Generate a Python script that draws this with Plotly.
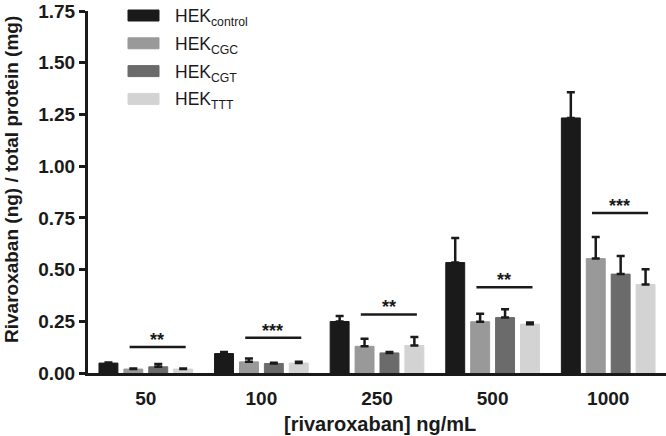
import plotly.graph_objects as go

# data
doses = ['50', '100', '250', '500', '1000']
series_names = ['HEK<sub>control</sub>', 'HEK<sub>CGC</sub>', 'HEK<sub>CGT</sub>', 'HEK<sub>TTT</sub>']
series_colors = ['#1a1a1a', '#999999', '#6b6b6b', '#d3d3d3']

control_mean = [0.048, 0.094, 0.249, 0.534, 1.233]
control_err = [0.003, 0.008, 0.026, 0.119, 0.124]
cgc_mean = [0.019, 0.054, 0.129, 0.248, 0.553]
cgc_err = [0.003, 0.016, 0.037, 0.038, 0.104]
cgt_mean = [0.030, 0.046, 0.097, 0.268, 0.478]
cgt_err = [0.013, 0.004, 0.005, 0.040, 0.088]
ttt_mean = [0.019, 0.048, 0.133, 0.236, 0.428]
ttt_err = [0.003, 0.006, 0.041, 0.008, 0.074]

means = [control_mean, cgc_mean, cgt_mean, ttt_mean]
errs = [control_err, cgc_err, cgt_err, ttt_err]

sig_y = [0.126, 0.171, 0.283, 0.414, 0.773]
sig_labels = ['**', '***', '**', '**', '***']

y_ticks = [0, 0.25, 0.5, 0.75, 1.0, 1.25, 1.5, 1.75]

W, H = 666, 436
ML, MR, MT, MB = 88, 0, 11, 63
FONT = 'Liberation Sans'


def px_x(px):
    return (px - ML) / (W - ML - MR)


def px_y(py):
    return (H - MB - py) / (H - MT - MB)


fig = go.Figure()

for name, color, m, e in zip(series_names, series_colors, means, errs):
    fig.add_trace(go.Bar(
        x=doses, y=m, name=name,
        marker=dict(color=color, line=dict(color=color, width=1)),
        error_y=dict(type='data', array=e, arrayminus=[0] * len(e), symmetric=False,
                     color='#1a1a1a', thickness=2.5, width=4),
        showlegend=False,
    ))

# significance bars
for i, (yv, lab) in enumerate(zip(sig_y, sig_labels)):
    fig.add_shape(type='line', xref='x', yref='y', x0=i - 0.14, x1=i + 0.345, y0=yv, y1=yv,
                  line=dict(color='#1a1a1a', width=2.5))
    fig.add_annotation(x=i + 0.1, y=yv, xref='x', yref='y', text='<b>' + lab + '</b>',
                       showarrow=False, yanchor='middle', yshift=7,
                       font=dict(family=FONT, size=18, color='#1a1a1a'))

# legend drawn by hand (wide swatches)
for k, (name, color) in enumerate(zip(series_names, series_colors)):
    yc = 15.5 + 27.8 * k
    fig.add_shape(type='rect', xref='paper', yref='paper',
                  x0=px_x(128), x1=px_x(159), y0=px_y(yc + 5.5), y1=px_y(yc - 5.5),
                  fillcolor=color, line=dict(color=color, width=1))
    fig.add_annotation(xref='paper', yref='paper', x=px_x(173), y=px_y(yc + 2),
                       text=name, showarrow=False, xanchor='left', yanchor='middle',
                       font=dict(family=FONT, size=17.5, color='#1a1a1a'))

# axis titles as annotations
fig.add_annotation(xref='paper', yref='paper', x=px_x(11), y=px_y(180),
                   text='<b>Rivaroxaban (ng) / total protein (mg)</b>', textangle=-90,
                   showarrow=False, xanchor='center', yanchor='middle',
                   font=dict(family=FONT, size=19, color='#1a1a1a'))
fig.add_annotation(xref='paper', yref='paper', x=px_x(380), y=px_y(424),
                   text='<b>[rivaroxaban] ng/mL</b>',
                   showarrow=False, xanchor='center', yanchor='middle',
                   font=dict(family=FONT, size=20, color='#1a1a1a'))

fig.update_layout(
    width=W, height=H,
    margin=dict(l=ML, r=MR, t=MT, b=MB),
    plot_bgcolor='white', paper_bgcolor='white',
    barmode='group', bargap=0.138, bargroupgap=0.24,
    font=dict(family=FONT, color='#1a1a1a'),
)

fig.update_xaxes(
    range=[-0.5, 4.5], showline=True, linewidth=3, linecolor='#1a1a1a',
    ticks='', showgrid=False, zeroline=False, ticklabelstandoff=6, automargin=False,
    tickfont=dict(size=19, family=FONT, weight='bold'),
)

fig.update_yaxes(
    range=[0, 1.75], showline=True, linewidth=3, linecolor='#1a1a1a',
    ticks='outside', ticklen=6, tickwidth=3, tickcolor='#1a1a1a',
    tickvals=y_ticks, tickformat='.2f', ticklabeloverflow='allow',
    showgrid=False, zeroline=False, automargin=False,
    tickfont=dict(size=19, family=FONT, weight='bold'),
)

# page body has an 8px default margin; drop it so the figure sits at the window corner
fig.write_html("out.html", config={'displayModeBar': False},
               post_script="document.body.style.margin='0px';")
